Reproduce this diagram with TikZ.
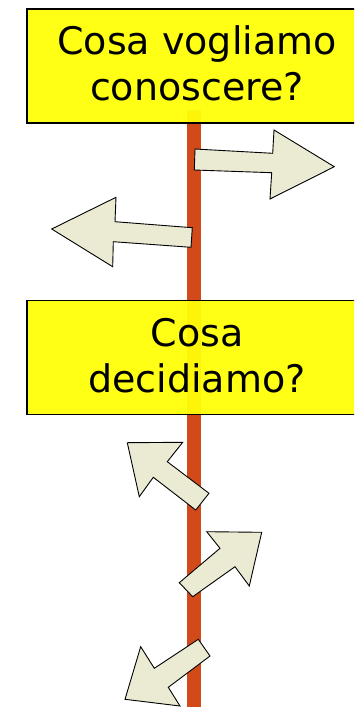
\documentclass[tikz,border=0pt]{standalone}
\usepackage{fontspec}
\setmainfont{DejaVu Sans}
\definecolor{signyellow}{HTML}{FFFF0A}
\definecolor{polered}{HTML}{D24A1A}
\definecolor{arrowfill}{HTML}{EBEBD4}
\tikzset{
  signbox/.style={draw=black, line width=1.8pt, fill=signyellow, fill opacity=0.95, text opacity=1,
    minimum width=340pt, minimum height=114pt, align=center, inner sep=0pt,
    text depth=5pt, font=\fontsize{38}{46}\selectfont},
  polestyle/.style={draw=polered, line width=14pt},
  bigarrow/.style={fill=arrowfill, draw=black, line width=0.9pt, line join=miter}
}
\begin{document}
\begin{tikzpicture}[x=1pt, y=-1pt]
\clip (0,0) rectangle (354,707);
\fill[white] (0,0) rectangle (354,707);
\coordinate (poletop) at (194,110);
\coordinate (polebot) at (194,710);
\draw[polestyle] (poletop) -- (polebot);
\node[signbox] (box1) at (197,66) {Cosa vogliamo\\conoscere?};
\node[signbox] (box2) at (197,357.5) {Cosa\\decidiamo?};
% arrow right (top)
\draw[bigarrow] (195,149) -- (272.7,153.3) -- (274,130) -- (334.3,166.7) -- (270,199) -- (271.7,172.7) -- (194.3,170) -- cycle;
% arrow left
\draw[bigarrow] (192.3,227.7) -- (115,221.7) -- (116,197.3) -- (51.7,229) -- (112.7,266.7) -- (113.3,241.7) -- (191,247.3) -- cycle;
% arrow up-left
\draw[bigarrow] (209,493.3) -- (167.3,461.7) -- (182.7,442.3) -- (127.3,442.7) -- (139.3,496.7) -- (153.3,477.3) -- (195.7,510) -- cycle;
% arrow up-right
\draw[bigarrow] (179.3,582.7) -- (220,548.3) -- (206.7,531.7) -- (261.7,532.3) -- (249.3,586) -- (235,566.7) -- (192.7,596.7) -- cycle;
% arrow down-left
\draw[bigarrow] (198.3,639.3) -- (154.3,668.3) -- (140.7,646.7) -- (125,699.3) -- (180,706) -- (168.3,687.3) -- (210,656) -- cycle;
\end{tikzpicture}
\end{document}
